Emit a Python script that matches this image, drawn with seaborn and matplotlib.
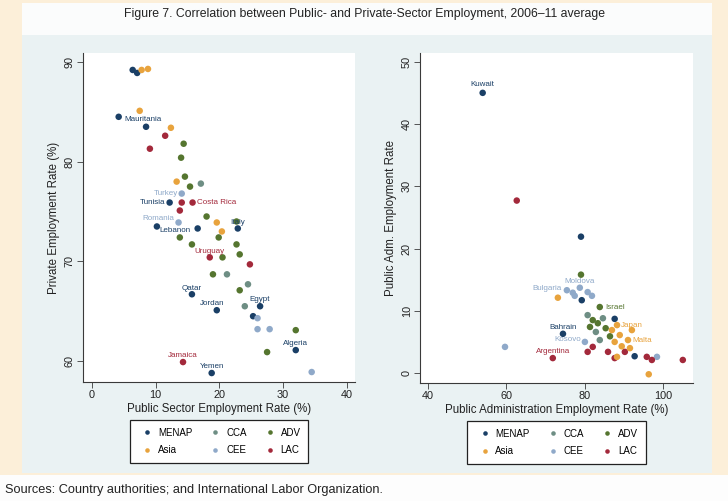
import matplotlib
matplotlib.use("Agg")
import matplotlib.pyplot as plt
from matplotlib.patches import Rectangle
import seaborn as sns
import pandas as pd

# Region groups and their colours
groups = ["MENAP", "CCA", "ADV", "Asia", "CEE", "LAC"]
legend_order = ["MENAP", "Asia", "CCA", "CEE", "ADV", "LAC"]
palette = {
    "MENAP": "#1a3f66",
    "CCA": "#6e8e84",
    "ADV": "#55752f",
    "Asia": "#e8a33d",
    "CEE": "#8fa9c9",
    "LAC": "#a3293b",
}

# Left panel: public-sector vs private employment rate (%)
left_public = [6.4, 7.1, 7.8, 8.8, 4.2, 7.5, 8.5, 12.4, 11.5, 14.4, 9.1, 14.0,
               14.6, 13.3, 15.4, 17.1, 14.1, 12.2, 14.1, 15.8, 13.8, 18.0, 19.6,
               22.7, 13.6, 10.2, 16.6, 20.4, 22.9, 13.8, 15.7, 19.9, 22.7, 18.5,
               20.5, 23.2, 24.8, 19.0, 21.2, 24.5, 23.2, 15.7, 19.6, 24.0, 26.4,
               25.3, 26.0, 26.0, 27.9, 32.0, 32.0, 27.5, 14.3, 18.8, 34.5]
left_private = [89.2, 88.9, 89.2, 89.3, 84.5, 85.1, 83.5, 83.4, 82.6, 81.8, 81.3,
                80.4, 78.5, 78.0, 77.5, 77.8, 76.8, 75.9, 75.9, 75.9, 75.1, 74.5,
                73.9, 74.0, 73.9, 73.5, 73.3, 73.0, 73.3, 72.4, 71.7, 72.4, 71.7,
                70.4, 70.4, 70.7, 69.7, 68.7, 68.7, 67.7, 67.1, 66.7, 65.1, 65.5,
                65.5, 64.5, 64.3, 63.2, 63.2, 63.1, 61.1, 60.9, 59.9, 58.8, 58.9]
left_group = ["MENAP", "MENAP", "Asia", "Asia", "MENAP", "Asia", "MENAP", "Asia",
              "LAC", "ADV", "LAC", "ADV", "ADV", "Asia", "ADV", "CCA", "CEE",
              "MENAP", "LAC", "LAC", "LAC", "ADV", "Asia", "ADV", "CEE", "MENAP",
              "MENAP", "Asia", "MENAP", "ADV", "ADV", "ADV", "ADV", "LAC", "ADV",
              "ADV", "LAC", "ADV", "CCA", "CCA", "ADV", "MENAP", "MENAP", "CCA",
              "MENAP", "MENAP", "CEE", "CEE", "CEE", "ADV", "MENAP", "ADV", "LAC",
              "MENAP", "CEE"]
left_label = ["", "", "", "", "Mauritania", "", "", "", "", "", "", "", "", "",
              "", "", "Turkey", "Tunisia", "", "Costa Rica", "", "", "", "", "Romania",
              "Lebanon", "", "", "Italy", "", "", "", "", "Uruguay", "", "", "", "",
              "", "", "", "Qatar", "Jordan", "", "Egypt", "", "", "", "", "",
              "Algeria", "", "Jamaica", "Yemen", ""]

# Right panel: public administration employment rates (%)
right_x = [54.0, 62.7, 79.1, 79.1, 75.5, 77.0, 78.8, 80.8, 77.5, 81.9, 79.3, 73.2,
           83.9, 87.7, 74.5, 59.7, 71.9, 80.8, 82.1, 83.4, 84.7, 81.4, 82.9, 85.4,
           86.5, 83.9, 80.1, 82.1, 80.8, 86.0, 87.7, 90.3, 87.0, 89.0, 91.1, 87.7,
           92.1, 89.5, 91.6, 88.3, 88.3, 96.4, 98.5, 92.8, 95.9, 97.2, 105.1]
right_y = [45.0, 27.7, 21.9, 15.8, 13.3, 12.9, 13.7, 13.0, 12.4, 12.4, 11.7, 12.1,
           10.6, 8.7, 6.3, 4.2, 2.4, 9.3, 8.5, 8.0, 8.8, 7.4, 6.6, 7.2, 5.9, 5.3,
           5.0, 4.2, 3.4, 3.4, 2.4, 3.4, 6.9, 6.1, 5.3, 5.0, 6.9, 4.3, 4.0, 7.7,
           2.6, -0.2, 2.6, 2.7, 2.6, 2.1, 2.1]
right_group = ["MENAP", "LAC", "MENAP", "ADV", "CEE", "CEE", "CEE", "CEE", "CEE",
               "CEE", "MENAP", "Asia", "ADV", "MENAP", "MENAP", "CEE", "LAC", "CCA",
               "ADV", "ADV", "CCA", "ADV", "CCA", "ADV", "ADV", "CCA", "CEE", "LAC",
               "LAC", "LAC", "LAC", "LAC", "Asia", "Asia", "Asia", "Asia", "Asia",
               "Asia", "Asia", "Asia", "Asia", "Asia", "CEE", "MENAP", "LAC", "LAC",
               "LAC"]
right_label = ["Kuwait", "", "", "", "Bulgaria", "", "Moldova", "", "", "", "", "",
               "Israel", "", "Bahrain", "", "Argentina", "", "", "", "", "", "", "",
               "", "", "Kosovo", "", "", "", "", "", "", "", "Malta", "", "", "", "",
               "Japan", "", "", "", "", "", "", ""]

# Where each marker label sits relative to its point: (dx, dy) in points, alignment
label_place = {
    "Mauritania": (4, -2, "left"), "Turkey": (-3, 0, "right"),
    "Tunisia": (-3, 0, "right"), "Costa Rica": (3, 0, "left"),
    "Romania": (-3, 3, "right"), "Lebanon": (2, -3, "left"),
    "Italy": (0, 4, "center"), "Uruguay": (0, 4.5, "center"),
    "Qatar": (0, 4.5, "center"), "Jordan": (-3, 4.5, "center"),
    "Egypt": (0, 4.5, "center"), "Algeria": (0, 4.5, "center"),
    "Jamaica": (0, 4.5, "center"), "Yemen": (0, 4.5, "center"),
    "Kuwait": (0, 6, "center"), "Bulgaria": (-4, 1, "right"),
    "Moldova": (0, 4.5, "center"), "Israel": (4, 0, "left"),
    "Bahrain": (0, 4.5, "center"), "Kosovo": (-3, 2, "right"),
    "Argentina": (0, 4.5, "center"), "Japan": (3, 0, "left"),
    "Malta": (3, 0, "left"),
}

W, H = 728, 501
plt.rcParams["font.family"] = ["Liberation Sans", "DejaVu Sans"]
fig = plt.figure(figsize=(W / 100, H / 100), dpi=100, facecolor="#fcefd9")


def box(x0, y0, x1, y1):
    """Figure-fraction rectangle from pixel corners (origin top-left)."""
    return (x0 / W, 1 - y1 / H, (x1 - x0) / W, (y1 - y0) / H)


def add_bg(x0, y0, x1, y1, color):
    l, b, w, h = box(x0, y0, x1, y1)
    fig.patches.append(Rectangle((l, b), w, h, transform=fig.transFigure,
                                 facecolor=color, edgecolor="none", zorder=-10))


add_bg(22, 3, 712, 36, "#fbfcfc")
add_bg(22, 35, 712, 473, "#eaf2f3")
add_bg(0, 475, W, H, "#fdfdfd")

fig.text(0.5, 1 - 14 / H,
         "Figure 7. Correlation between Public- and Private-Sector Employment, 2006\u201311 average",
         ha="center", va="center", fontsize=8.8, color="#222222")
fig.text(5 / W, 1 - 490 / H,
         "Sources: Country authorities; and International Labor Organization.",
         ha="left", va="center", fontsize=9.2, color="#222222")


def panel(rect, x, y, grp, lab, xlim, ylim, xticks, yticks, xlabel, ylabel):
    ax = fig.add_axes(box(*rect))
    ax.set_facecolor("white")
    df = pd.DataFrame({"x": x, "y": y, "group": grp, "label": lab})
    sns.scatterplot(data=df, x="x", y="y", hue="group", hue_order=legend_order,
                    palette=palette, s=22, linewidth=0, ax=ax, zorder=3)
    for _, r in df[df["label"] != ""].iterrows():
        dx, dy, ha = label_place[r["label"]]
        ax.annotate(r["label"], (r["x"], r["y"]), xytext=(dx, dy),
                    textcoords="offset points", ha=ha, va="center",
                    fontsize=5.8, color=palette[r["group"]], zorder=4)
    ax.set_xlim(*xlim)
    ax.set_ylim(*ylim)
    ax.set_xticks(xticks)
    ax.set_yticks(yticks)
    for side in ("top", "right"):
        ax.spines[side].set_visible(False)
    for side in ("left", "bottom"):
        ax.spines[side].set_color("#3a3a3a")
        ax.spines[side].set_linewidth(0.8)
    ax.tick_params(direction="out", length=4, width=0.6, color="#3a3a3a",
                   labelsize=7.8, labelcolor="#222222", pad=2)
    for t in ax.get_yticklabels():
        t.set_rotation(90)
        t.set_va("center")
    ax.set_xlabel(xlabel, fontsize=8.3, color="#222222", labelpad=2)
    ax.set_ylabel(ylabel, fontsize=8.3, color="#222222", labelpad=3)
    sns.move_legend(ax, "upper center", bbox_to_anchor=(0.5, -0.1), ncol=3,
                    title=None, frameon=True, fontsize=7.0, fancybox=False,
                    edgecolor="#222222", framealpha=1, borderpad=0.8,
                    columnspacing=1.4, handletextpad=0.1, labelspacing=0.8,
                    markerscale=0.7)
    ax.get_legend().get_frame().set_linewidth(0.9)
    return ax


panel((83, 53, 355, 382), left_public, left_private, left_group, left_label,
      (-1.4, 41.3), (57.9, 90.9), [0, 10, 20, 30, 40], [60, 70, 80, 90],
      "Public Sector Employment Rate (%)", "Private Employment Rate (%)")
panel((420, 53, 693, 383), right_x, right_y, right_group, right_label,
      (38.0, 107.7), (-1.6, 51.4), [40, 60, 80, 100], [0, 10, 20, 30, 40, 50],
      "Public Administration Employment Rate (%)", "Public Adm. Employment Rate")

fig.savefig("out.png", dpi=100, facecolor=fig.get_facecolor())
